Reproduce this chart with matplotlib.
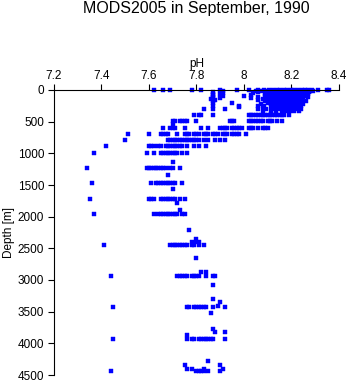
import matplotlib
matplotlib.use("Agg")
import matplotlib.pyplot as plt

plt.rcParams['font.family'] = ['Liberation Sans', 'DejaVu Sans']

title = "MODS2005 in September, 1990"
x_label = "pH"
y_label = "Depth [m]"
x_ticks = [7.2, 7.4, 7.6, 7.8, 8.0, 8.2, 8.4]
x_tick_labels = ["7.2", "7.4", "7.6", "7.8", "8", "8.2", "8.4"]
y_ticks = [0, 500, 1000, 1500, 2000, 2500, 3000, 3500, 4000, 4500]

depth_levels = [0, 10, 20, 30, 45, 60, 75, 90, 110, 125, 140, 160, 180, 200, 225,
                250, 275, 300, 330, 395, 490, 540, 600,
                695, 790, 885, 995, 1135, 1230, 1340, 1470, 1565, 1715, 1785, 1895,
                1960, 2210, 2360, 2395, 2450, 2660, 2870, 2930, 3080, 3300, 3350,
                3410, 3430, 3525, 3780, 3815, 3870, 3930, 4280, 4340, 4400, 4440]

ph_at_level = [
    [7.62, 7.66, 7.69, 7.78, 7.82, 7.90, 7.97, 8.02, 8.06, 8.083, 8.104, 8.121, 8.137, 8.152, 8.168,
     8.181, 8.196, 8.212, 8.227, 8.243, 8.256, 8.271, 8.285, 8.31, 8.35, 8.36],
    [8.05, 8.092, 8.113, 8.127, 8.145, 8.163, 8.178, 8.19, 8.205, 8.218, 8.236, 8.251, 8.268, 8.29],
    [7.91, 8.075, 8.118, 8.132, 8.151, 8.172, 8.186, 8.199, 8.214, 8.233, 8.246, 8.262, 8.277],
    [7.87, 8.06, 8.097, 8.125, 8.141, 8.158, 8.174, 8.193, 8.208, 8.221, 8.239, 8.255, 8.272],
    [7.91, 8.04, 8.106, 8.129, 8.147, 8.166, 8.183, 8.197, 8.211, 8.226, 8.242, 8.26],
    [7.87, 7.90, 8.09, 8.118, 8.136, 8.155, 8.171, 8.188, 8.203, 8.219, 8.234, 8.251, 8.268],
    [7.87, 8.03, 8.112, 8.131, 8.149, 8.162, 8.179, 8.194, 8.209, 8.224, 8.243, 8.262],
    [7.91, 8.00, 8.087, 8.124, 8.144, 8.158, 8.176, 8.192, 8.207, 8.223, 8.238, 8.254],
    [7.87, 8.06, 8.102, 8.128, 8.139, 8.157, 8.173, 8.189, 8.204, 8.217, 8.232, 8.249, 8.27],
    [7.87, 7.90, 8.03, 8.095, 8.121, 8.142, 8.161, 8.177, 8.195, 8.212, 8.229, 8.246],
    [7.86, 8.08, 8.115, 8.133, 8.151, 8.166, 8.184, 8.198, 8.216, 8.231, 8.25],
    [7.88, 8.06, 8.104, 8.126, 8.145, 8.163, 8.179, 8.196, 8.213, 8.228, 8.244],
    [7.87, 8.09, 8.118, 8.137, 8.154, 8.171, 8.187, 8.204, 8.222, 8.239, 8.26],
    [7.87, 7.95, 8.10, 8.124, 8.143, 8.159, 8.176, 8.192, 8.209, 8.225, 8.241],
    [8.07, 8.112, 8.131, 8.148, 8.167, 8.183, 8.199, 8.216, 8.233, 8.25],
    [7.87, 7.98, 8.06, 8.085, 8.121, 8.139, 8.156, 8.172, 8.188, 8.206, 8.222, 8.238],
    [7.98, 8.08, 8.114, 8.133, 8.151, 8.168, 8.186, 8.203, 8.219, 8.236],
    [7.83, 7.87, 7.92, 8.06, 8.093, 8.118, 8.137, 8.155, 8.171, 8.189, 8.205, 8.22, 8.24],
    [8.08, 8.112, 8.134, 8.158, 8.176, 8.195, 8.212, 8.23],
    [7.79, 7.81, 7.82, 7.87, 8.02, 8.03, 8.04, 8.05, 8.06, 8.07, 8.08, 8.09, 8.10, 8.11, 8.12, 8.13,
     8.14, 8.15, 8.16, 8.17, 8.19],
    [7.70, 7.71, 7.73, 7.74, 7.75, 7.76, 7.80, 7.94, 7.95, 7.96, 8.02, 8.03, 8.04, 8.05, 8.06, 8.07,
     8.08, 8.10, 8.11, 8.12, 8.14, 8.16],
    [7.70],
    [7.66, 7.69, 7.70, 7.71, 7.75, 7.82, 7.85, 7.90, 7.91, 7.92, 7.93, 7.95, 7.96, 7.97, 7.98, 7.99,
     8.02, 8.03, 8.04, 8.06, 8.08, 8.09, 8.10],
    [7.51, 7.60, 7.65, 7.66, 7.67, 7.68, 7.72, 7.75, 7.76, 7.77, 7.79, 7.80, 7.81, 7.83, 7.84, 7.85,
     7.87, 7.88, 7.89, 7.91, 7.92, 7.93, 7.95, 7.96, 7.97, 7.98, 8.01],
    [7.50, 7.68, 7.69, 7.70, 7.71, 7.72, 7.73, 7.74, 7.75, 7.76, 7.77, 7.78, 7.79, 7.80, 7.81, 7.83,
     7.85, 7.88, 7.90, 7.92],
    [7.42, 7.60, 7.61, 7.62, 7.64, 7.65, 7.67, 7.68, 7.69, 7.70, 7.71, 7.72, 7.73, 7.74, 7.76, 7.79,
     7.81, 7.84],
    [7.37, 7.59, 7.62, 7.65, 7.66, 7.67, 7.68, 7.69, 7.70, 7.71, 7.72, 7.74, 7.76],
    [7.70],
    [7.34, 7.59, 7.60, 7.61, 7.62, 7.63, 7.64, 7.65, 7.66, 7.67, 7.69, 7.70, 7.73],
    [7.68],
    [7.36, 7.61, 7.63, 7.64, 7.65, 7.66, 7.67, 7.68, 7.69, 7.70, 7.71, 7.74],
    [7.70],
    [7.35, 7.60, 7.61, 7.62, 7.65, 7.66, 7.67, 7.68, 7.69, 7.70, 7.71, 7.73, 7.75],
    [7.72],
    [7.73],
    [7.37, 7.62, 7.64, 7.65, 7.66, 7.67, 7.68, 7.69, 7.70, 7.71, 7.72, 7.74, 7.75],
    [7.77],
    [7.80],
    [7.78, 7.80, 7.81],
    [7.41, 7.69, 7.70, 7.71, 7.72, 7.73, 7.74, 7.75, 7.76, 7.78, 7.79, 7.81, 7.83],
    [7.80],
    [7.82, 7.84],
    [7.44, 7.72, 7.73, 7.74, 7.75, 7.76, 7.78, 7.79, 7.80, 7.81, 7.84, 7.87, 7.88],
    [7.87],
    [7.87],
    [7.90],
    [7.89],
    [7.45, 7.76, 7.77, 7.79, 7.80, 7.81, 7.82, 7.83, 7.84, 7.87, 7.92],
    [7.86],
    [7.87],
    [7.88, 7.92],
    [7.76],
    [7.45, 7.76, 7.78, 7.79, 7.81, 7.82, 7.83, 7.84, 7.85, 7.86, 7.87, 7.92],
    [7.85],
    [7.75, 7.90],
    [7.76, 7.78, 7.83, 7.91],
    [7.44, 7.80, 7.81, 7.82, 7.83, 7.85, 7.90],
]

ph_vals = []
depth_vals = []
for d, row in zip(depth_levels, ph_at_level):
    for p in row:
        ph_vals.append(p)
        depth_vals.append(d)

fig = plt.figure(figsize=(3.5, 3.84), dpi=100)
ax = fig.add_axes([54/350, 1 - 375/384, 285/350, 285/384])

ax.plot(ph_vals, depth_vals, linestyle='none', marker='s', markersize=2.2,
        markerfacecolor='#0000ff', markeredgecolor='#0000ff', markeredgewidth=0.3,
        clip_on=False)

ax.set_xlim(7.2, 8.4)
ax.set_ylim(4500, 0)
ax.xaxis.tick_top()
ax.xaxis.set_label_position('top')
ax.set_xticks(x_ticks)
ax.set_xticklabels(x_tick_labels)
ax.set_yticks(y_ticks)
ax.tick_params(axis='both', labelsize=8.5, length=4, width=0.8, color='black', direction='out')
ax.tick_params(axis='x', pad=2)
ax.tick_params(axis='y', pad=3)
for s in ['right', 'bottom']:
    ax.spines[s].set_visible(False)
for s in ['left', 'top']:
    ax.spines[s].set_linewidth(0.8)
ax.set_xlabel(x_label, fontsize=8.5, labelpad=2)
ax.set_ylabel(y_label, fontsize=8.5, labelpad=2)
fig.text((54 + 339) / 2 / 350, 1 - 13/384, title, ha='center', va='baseline', fontsize=11.5)

fig.savefig("out.png", dpi=100)
